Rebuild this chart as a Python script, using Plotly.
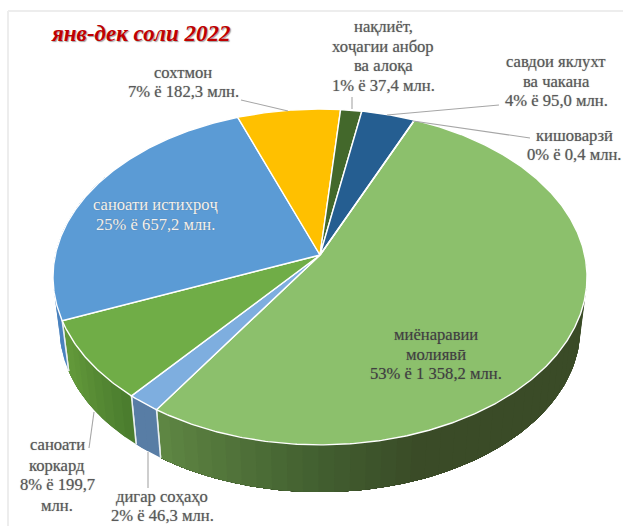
import numpy as np
import plotly.graph_objects as go

# --- data, clockwise from the first slice ---
sectors = ["миёнаравии молиявӣ", "дигар соҳаҳо", "саноати коркард", "саноати истихроҷ",
           "сохтмон", "нақлиёт, хоҷагии анбор ва алоқа", "савдои яклухт ва чакана", "кишоварзӣ"]
values = [1358.2, 46.3, 199.7, 657.2, 182.3, 37.4, 95.0, 0.4]
top_colors = ["#8CC06C", "#7EAEDF", "#70AD47", "#5B9BD5", "#FFC000", "#43682B", "#255E91", "#A5A5A5"]
# side shading stops for each slice: (angle, rgb)
side_stops = [
    [(90, (58, 75, 39)), (160, (58, 75, 39)), (180, (66, 95, 48)), (213.5, (96, 136, 68))],
    [(213, (88, 125, 165)), (221, (88, 125, 165))],
    [(220, (74, 124, 46)), (242, (98, 152, 58))],
    [(240, (74, 130, 190)), (300, (74, 130, 190))],
]
title_text = "янв-дек соли 2022"
# one text line: (text, x, y, colour)
GREY = "#595959"
labels = [
    ("нақлиёт,", 383, 26, GREY), ("хоҷагии анбор", 383, 46, GREY), ("ва алоқа", 383, 65, GREY),
    ("1% ё 37,4 млн.", 383, 85, GREY),
    ("сохтмон", 183, 72, GREY), ("7% ё 182,3 млн.", 183, 91, GREY),
    ("савдои яклухт", 556, 61, GREY), ("ва чакана", 556, 81, GREY), ("4% ё 95,0 млн.", 556, 100, GREY),
    ("кишоварзӣ", 574, 135, GREY), ("0% ё 0,4 млн.", 574, 154, GREY),
    ("саноати истихроҷ", 155, 204, "#F2F2F2"), ("25% ё 657,2 млн.", 155, 224, "#F2F2F2"),
    ("миёнаравии", 436, 334, "#404040"), ("молиявӣ", 436, 354, "#404040"),
    ("53% ё 1 358,2 млн.", 436, 373, "#404040"),
    ("саноати", 57, 444, GREY), ("коркард", 57, 465, GREY), ("8% ё 199,7", 57, 484, GREY), ("млн.", 57, 505, GREY),
    ("дигар соҳаҳо", 162, 496, GREY), ("2% ё 46,3 млн.", 162, 515, GREY),
]
leaders = [((241, 100), (288, 111)), ((352, 97), (352, 109)), ((499, 105), (387, 115)),
           ((530, 138), (413, 121)), ((94, 412), (89, 448)), ((148, 452), (148, 488))]

# --- projection of the tilted disc ---
START = 23.6
CX, CY, A, B, K = 320, 255, 264.7, 165, 0.131
CY2, SCALE2 = 307, 0.975


def rim(theta, bottom=False):
    t = np.radians(theta)
    d = 1 + K * np.cos(t)
    s = SCALE2 if bottom else 1
    cy = CY2 if bottom else CY
    return CX + s * A * np.sin(t) / d, cy - s * B * np.cos(t) / d


fractions = np.array(values) / sum(values)
edges = START + np.concatenate([[0], np.cumsum(fractions)]) * 360

fig = go.Figure()


def poly(x, y, fill, line=None, width=0):
    fig.add_trace(go.Scatter(x=x, y=y, mode="lines", fill="toself", fillcolor=fill,
                             line=dict(color=line or fill, width=width),
                             hoverinfo="skip", showlegend=False))


# sides (only the near part of the disc can be seen)
for i, stops in enumerate(side_stops):
    lo, hi = max(edges[i], 90), min(edges[i + 1], 300)
    n = max(1, int((hi - lo) / 3))
    th = np.linspace(lo, hi, n + 1)
    sa, sc = zip(*stops)
    for a0, a1 in zip(th[:-1], th[1:]):
        mid = (a0 + a1) / 2
        c = [int(np.interp(mid, sa, [v[j] for v in sc])) for j in range(3)]
        # every band runs on to the end of the slice, so later bands overlap it without seams
        seg = np.linspace(a0, hi, max(2, int((hi - a0) / 1.5) + 1))
        x0, y0 = rim(seg)
        x1, y1 = rim(seg[::-1], bottom=True)
        poly(np.r_[x0, x1, x0[0]], np.r_[y0, y1, y0[0]], f"rgb({c[0]},{c[1]},{c[2]})")
    for e in (edges[i], edges[i + 1]):
        if 90 <= e <= 300:
            xa, ya = rim(np.array([e]))
            xb, yb = rim(np.array([e]), bottom=True)
            fig.add_trace(go.Scatter(x=[xa[0], xb[0]], y=[ya[0], yb[0]], mode="lines",
                                     line=dict(color="#E8EEF0", width=1.5),
                                     hoverinfo="skip", showlegend=False))

# top face
for i, col in enumerate(top_colors):
    th = np.linspace(edges[i], edges[i + 1], max(2, int((edges[i + 1] - edges[i]) * 2)) + 1)
    xr, yr = rim(th)
    poly(np.r_[CX, xr, CX], np.r_[CY, yr, CY], col, "#FFFFFF", 1.4)

# frame
for (x0, y0, x1, y1) in [(8, 11, 623, 11), (8, 11, 8, 526)]:
    fig.add_shape(type="line", x0=x0, y0=y0, x1=x1, y1=y1, line=dict(color="#EDEDED", width=2), layer="below")

# leader lines
for (p, q) in leaders:
    fig.add_shape(type="line", x0=p[0], y0=p[1], x1=q[0], y1=q[1], line=dict(color="#A6A6A6", width=1.1))

# text
for text, x, y, color in labels:
    fig.add_annotation(x=x, y=y, text=text, showarrow=False, xanchor="center", yanchor="middle",
                       font=dict(family="Liberation Serif", size=16.6, color=color,
                                 shadow="0 0 1px rgba(90,90,90,0.6)"))
fig.add_annotation(x=141, y=33, text=f"<b><i>{title_text}</i></b>", showarrow=False,
                   xanchor="center", yanchor="middle",
                   font=dict(family="Liberation Serif", size=23, color="#C00000",
                             shadow="1px 1px 1px rgba(120,120,120,0.7)"))

fig.update_layout(width=623, height=526, margin=dict(l=0, r=0, t=0, b=0),
                  paper_bgcolor="white", plot_bgcolor="white", showlegend=False,
                  xaxis=dict(range=[0, 623], visible=False, fixedrange=True),
                  yaxis=dict(range=[526, 0], visible=False, fixedrange=True))
fig.write_html("out.html", config=dict(displayModeBar=False),
               post_script="document.body.style.margin='0';document.body.style.overflow='hidden';")
